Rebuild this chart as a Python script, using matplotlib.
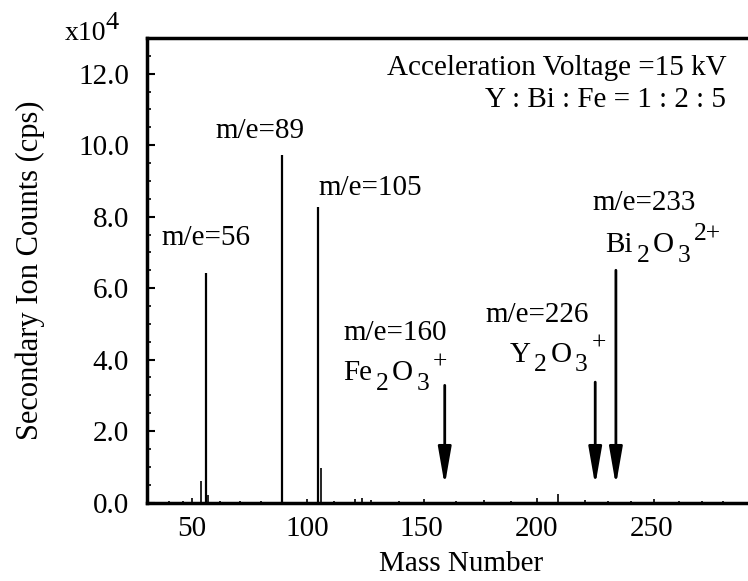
import matplotlib
matplotlib.use("Agg")
import matplotlib.pyplot as plt
import matplotlib.transforms as mtransforms

plt.rcParams["font.family"] = "Liberation Serif"

# main peaks (mass number, counts in 1e4 cps)
peak_mass = [56, 89, 105]
peak_height = [6.42, 9.72, 8.28]

# small peaks along the baseline
minor_mass = [40, 46, 50, 54, 57, 62, 71, 80, 100, 106, 112, 121, 124, 128,
              140, 151, 165, 177, 189, 200, 209.5, 221, 231, 241, 251, 262, 272, 281]
minor_height = [0.05, 0.04, 0.14, 0.6, 0.2, 0.05, 0.04, 0.04, 0.1, 0.98, 0.05, 0.1,
                0.12, 0.08, 0.04, 0.1, 0.04, 0.08, 0.05, 0.12, 0.25, 0.07, 0.05,
                0.05, 0.1, 0.04, 0.05, 0.04]

# peak labels
peak_labels = ["m/e=56", "m/e=89", "m/e=105"]
peak_label_x = [36.5, 60, 105]
peak_label_y = [7.2, 10.2, 8.62]

# arrows marking expected oxide ions
arrow_mass = [160, 225.5, 234.5]
arrow_top = [3.28, 3.37, 6.5]
arrow_tip = [0.48, 0.48, 0.48]
arrow_labels = ["m/e=160", "m/e=226", "m/e=233"]
arrow_label_x = [115.7, 177.8, 224.3]
arrow_label_y = [4.54, 5.05, 8.2]

# ion formulas: (text, shift) with shift -1 = subscript, 1 = superscript
ion_parts = [
    [("Fe", 0), ("2", -1), ("O", 0), ("3", -1), ("+", 1)],
    [("Y", 0), ("2", -1), ("O", 0), ("3", -1), ("+", 1)],
    [("Bi", 0), ("2", -1), ("O", 0), ("3", -1), ("2+", 1)],
]
ion_label_x = [115.7, 188.3, 230]
ion_label_y = [3.42, 3.93, 7.0]

xticks = [50, 100, 150, 200, 250]
yticks = [0, 2, 4, 6, 8, 10, 12]

fig = plt.figure(figsize=(7.48, 5.81), dpi=100)
ax = fig.add_axes([0.1965, 0.135, 0.8035, 0.7996])
ax.set_xlim(30.4, 292)
ax.set_ylim(0, 13)
renderer = fig.canvas.get_renderer()


def chem_label(x, y, parts, size=21):
    dx = 0.0
    for s, shift in parts:
        fs = size if shift == 0 else size * 0.88
        dy = {0: 0.0, -1: -0.32 * size, 1: 0.42 * size}[shift]
        tr = mtransforms.offset_copy(ax.transData, fig=fig, x=dx, y=dy, units="points")
        t = ax.text(x, y, s, fontsize=fs, va="baseline", ha="left", transform=tr)
        dx += t.get_window_extent(renderer).width * 72 / fig.dpi + 2.5


ax.vlines(peak_mass, 0, peak_height, color="black", lw=1.6)
ax.vlines(minor_mass, 0, minor_height, color="black", lw=1.2)

for txt, x, y in zip(peak_labels, peak_label_x, peak_label_y):
    ax.text(x, y, txt, fontsize=21, va="baseline", ha="left")

for m, top, tip in zip(arrow_mass, arrow_top, arrow_tip):
    ax.annotate("", xy=(m, tip), xytext=(m, top),
                arrowprops=dict(arrowstyle="-|>,head_length=1.15,head_width=0.2",
                                lw=2, color="black", mutation_scale=20,
                                shrinkA=0, shrinkB=0))

for txt, x, y in zip(arrow_labels, arrow_label_x, arrow_label_y):
    ax.text(x, y, txt, fontsize=21, va="baseline", ha="left")
for parts, x, y in zip(ion_parts, ion_label_x, ion_label_y):
    chem_label(x, y, parts)

ax.text(282.5, 11.96, "Acceleration Voltage =15 kV", fontsize=21, ha="right", va="baseline")
ax.text(282.5, 11.06, "Y : Bi : Fe = 1 : 2 : 5", fontsize=21, ha="right", va="baseline")

ax.set_xticks(xticks)
ax.set_yticks(yticks)
ax.set_yticklabels([f"{v:.1f}" for v in yticks])
ax.set_yticks([v / 2 for v in range(0, 26)], minor=True)
ax.tick_params(axis="both", which="major", direction="in", labelsize=21, length=6, width=1.5)
ax.tick_params(axis="y", which="minor", direction="in", length=3, width=1.2)
ax.tick_params(axis="x", which="major", length=0, pad=10)
ax.tick_params(axis="y", pad=13)

for side in ["left", "bottom", "top"]:
    ax.spines[side].set_linewidth(2.5)
ax.spines["right"].set_visible(False)

ax.set_xlabel("Mass Number", fontsize=21)
ax.xaxis.set_label_coords(0.522, -0.105)
ax.set_ylabel("Secondary Ion Counts (cps)", fontsize=22)
ax.yaxis.set_label_coords(-0.17, 0.5)

fig.text(0.087, 0.931, "x10", fontsize=20, va="baseline", ha="left")
fig.text(0.141, 0.95, "4", fontsize=19, va="baseline", ha="left")

fig.savefig("out.png", dpi=100)
